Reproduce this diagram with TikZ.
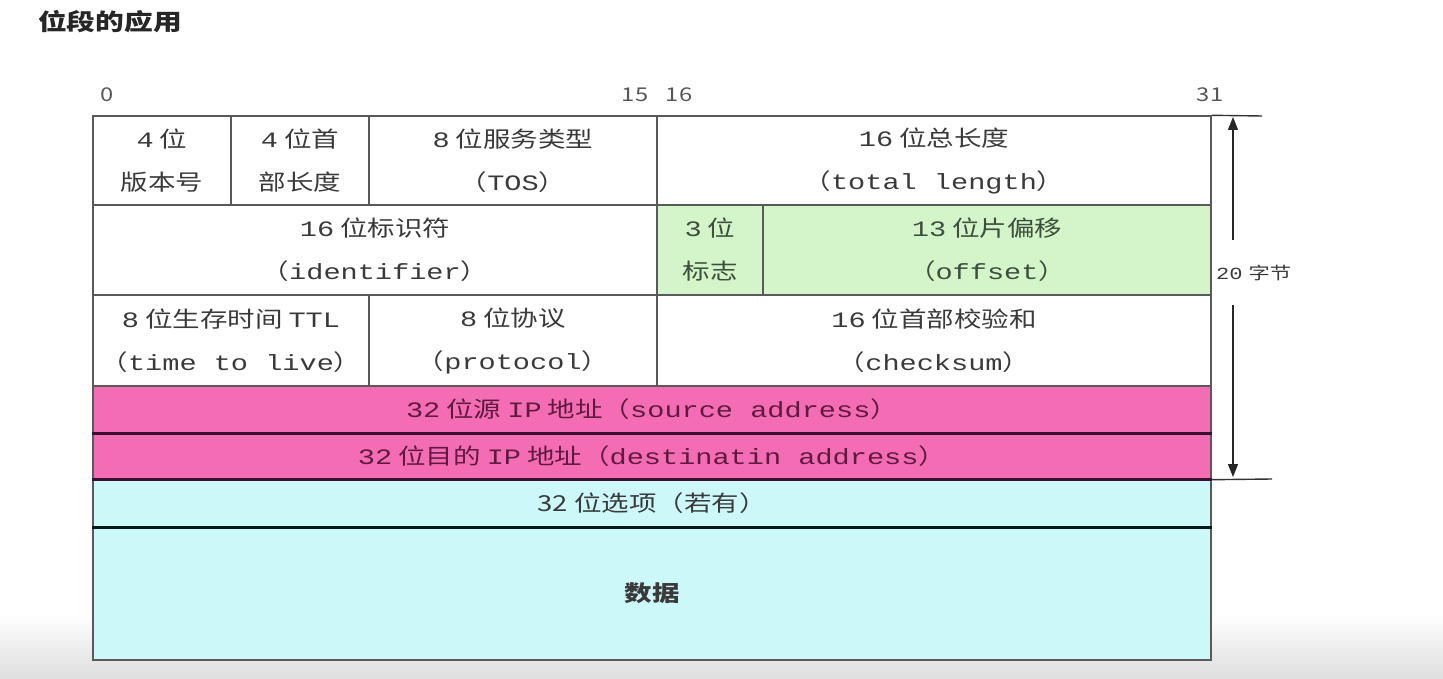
\documentclass[tikz,border=0pt]{standalone}
\usepackage{fontspec}
\setmainfont[FakeStretch=1.3]{Liberation Mono}
\newfontfamily\cjk[FakeStretch=1.25]{Noto Sans CJK SC}
\newcommand\zh[1]{{\cjk #1}}
\newcommand\gp{\hspace{6pt}}
\usetikzlibrary{arrows.meta}
\definecolor{ink}{HTML}{3A3A3A}
\definecolor{frame}{HTML}{5A5A5A}
\definecolor{greenfld}{HTML}{D4F5C9}
\definecolor{greenink}{HTML}{3D4F3D}
\definecolor{pinkfld}{HTML}{F46DB4}
\definecolor{pinkink}{HTML}{5E1A40}
\definecolor{cyanfld}{HTML}{CCF8FA}
\definecolor{darksep}{HTML}{3A1030}

\begin{document}
\begin{tikzpicture}[
  x=1pt, y=-1pt,
  cell/.style  = {draw=frame, line width=1.4pt, inner sep=0pt, align=center,
                  text=ink, font=\fontsize{22}{43}\selectfont},
  flagcell/.style = {cell, fill=greenfld, text=greenink},
  addrcell/.style = {cell, fill=pinkfld, text=pinkink},
  optcell/.style  = {cell, fill=cyanfld, text=ink},
  bitlab/.style   = {font=\cjk\fontsize{19}{19}\selectfont, text=ink!85, inner sep=0pt},
  sepline/.style  = {line width=2.6pt, draw=darksep},
  dimline/.style  = {line width=1.4pt, draw=black!80},
  dimarr/.style   = {-{Triangle[length=13pt,width=10pt]}, line width=1.3pt, draw=black!85},
]
\useasboundingbox (0,0) rectangle (1443,679);

% ---------- screen background ----------
\shade[top color=white, bottom color=black!13] (0,612) rectangle (1443,679);

% ---------- title ----------
\node[anchor=west, inner sep=0pt, font=\cjk\bfseries\fontsize{23}{23}\selectfont, text=black!85]
  (title) at (38,22) {位段的应用};

% ---------- bit positions ----------
\node[bitlab] (b0)  at (107,95)  {0};
\node[bitlab] (b15) at (635,95)  {15};
\node[bitlab] (b16) at (679,95)  {16};
\node[bitlab] (b31) at (1210,95) {31};

% ---------- row 1 ----------
\node[cell, minimum width=138pt, minimum height=89pt] (ver)    at (162,160.5)
  {4\gp\zh{位}\\\zh{版本号}};
\node[cell, minimum width=138pt, minimum height=89pt] (hlen)   at (300,160.5)
  {4\gp\zh{位首}\\\zh{部长度}};
\node[cell, minimum width=288pt, minimum height=89pt] (tos)    at (513,160.5)
  {8\gp\zh{位服务类型}\\\zh{（}TOS\zh{）}};
\node[cell, minimum width=554pt, minimum height=89pt] (totlen) at (934,160.5)
  {16\gp\zh{位总长度}\\\zh{（}total length\zh{）}};

% ---------- row 2 ----------
\node[cell, minimum width=564pt, minimum height=90pt] (ident)  at (375,250)
  {16\gp\zh{位标识符}\\\zh{（}identifier\zh{）}};
\node[flagcell, minimum width=106pt, minimum height=90pt] (flags)  at (710,250)
  {3\gp\zh{位}\\\zh{标志}};
\node[flagcell, minimum width=448pt, minimum height=90pt] (offset) at (987,250)
  {13\gp\zh{位片偏移}\\\zh{（}offset\zh{）}};

% ---------- row 3 ----------
\node[cell, minimum width=276pt, minimum height=91pt] (ttl)   at (231,340.5)
  {8\gp\zh{位生存时间}\gp TTL\\\zh{（}time to live\zh{）}};
\node[cell, minimum width=288pt, minimum height=91pt] (proto) at (513,340.5)
  {8\gp\zh{位协议}\\\zh{（}protocol\zh{）}};
\node[cell, minimum width=554pt, minimum height=91pt] (cksum) at (934,340.5)
  {16\gp\zh{位首部校验和}\\\zh{（}checksum\zh{）}};

% ---------- addresses ----------
\node[addrcell, minimum width=1118pt, minimum height=47pt] (src) at (652,409.5)
  {32\gp\zh{位源}\gp IP\gp\zh{地址（}source address\zh{）}};
\node[addrcell, minimum width=1118pt, minimum height=46pt] (dst) at (652,456)
  {32\gp\zh{位目的}\gp IP\gp\zh{地址（}destinatin address\zh{）}};

% ---------- options + data ----------
\node[optcell, minimum width=1118pt, minimum height=48pt] (opt)  at (652,503)
  {\cjk 32 位选项（若有）};
\node[optcell, minimum width=1118pt, minimum height=133pt] (data) at (652,593.5)
  {\cjk\bfseries 数据};

\draw[sepline] (src.south west) -- (src.south east);
\draw[sepline] (dst.south west) -- (dst.south east);
\draw[sepline, draw=black!80!teal] (opt.south west) -- (opt.south east);

% ---------- header size ----------
\coordinate (toptick) at (1262,116);
\coordinate (bottick) at (1272,479);
\coordinate (topend)  at (1233,117);
\coordinate (botend)  at (1233,477);
\coordinate (upstart) at (1233,240);
\coordinate (dnstart) at (1233,305);
\draw[dimline] (totlen.north east) -- (toptick);
\draw[dimline] (dst.south east) -- (bottick);
\draw[dimarr] (upstart) -- (topend);
\draw[dimarr] (dnstart) -- (botend);
\node[anchor=west, inner sep=0pt, text=ink, font=\fontsize{17}{17}\selectfont]
  (bytes) at (1216,273) {20\gp\zh{字节}};

\end{tikzpicture}
\end{document}
